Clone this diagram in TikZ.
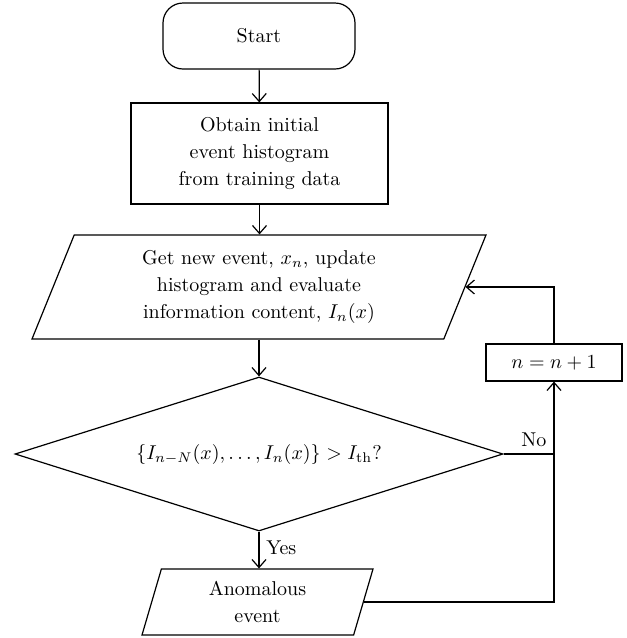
\documentclass[tikz,border=0pt]{standalone}
\usetikzlibrary{shapes.geometric,arrows.meta,positioning}
\tikzset{
  line/.style={line width=0.6pt},
  arr/.style={line, -{Straight Barb[length=4pt,width=7pt]}},
  proc/.style={draw, line, align=center, inner sep=0pt},
  io/.style={trapezium, draw, line, align=center, inner sep=0pt, trapezium stretches body},
}
\begin{document}
\begin{tikzpicture}[x=0.5pt,y=-0.5pt,font=\fontsize{10}{13.5}\selectfont]
\useasboundingbox (0,0) rectangle (627,638);
% boxes
\node (start) at (259,36) [proc, rounded corners=10pt, minimum width=96pt, minimum height=33pt] {Start};
\node (init) at (259.5,153.5) [proc, minimum width=128.5pt, minimum height=50.5pt] {Obtain initial\\event histogram\\from training data};
\node (getev) at (259,287) [io, trapezium left angle=60, trapezium right angle=120, minimum width=227pt, minimum height=52pt] {Get new event, $x_n$, update\\histogram and evaluate\\information content, $I_n(x)$};
\node (test) at (259,454) [diamond, draw, line, inner sep=0pt, aspect=3.17, minimum width=244pt, minimum height=77pt] {$\{I_{n-N}(x),\ldots,I_n(x)\} > I_{\mathrm{th}}$?};
\node (anom) at (257.5,602) [io, trapezium left angle=65, trapezium right angle=115, minimum width=115.5pt, minimum height=33pt] {Anomalous\\event};
\node (incr) at (554,362.5) [proc, minimum width=68pt, minimum height=18.5pt] {$n = n + 1$};
% connectors
\draw[arr] (start) -- (init);
\draw[arr] (init) -- (init |- getev.north);
\draw[arr] (getev.south -| test) -- (test);
\draw[arr] (test.south) -- node[right, pos=0.45] {Yes} (test.south |- anom.north);
\draw[line] (test.east) -- node[above, pos=0.6] {No} (test.east -| incr);
\draw[arr] (anom.east) -| (incr.south);
\draw[arr] (incr.north) |- (getev.east);
\end{tikzpicture}
\end{document}
